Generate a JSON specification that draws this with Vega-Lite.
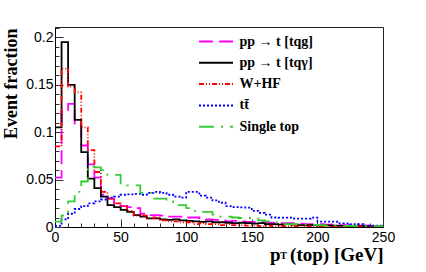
{
"$schema": "https://vega.github.io/schema/vega-lite/v6.json",
"width": 328, "height": 200,
"autosize": {"type": "none"},
"padding": {"left": 55, "top": 27, "right": 43, "bottom": 45},
"background": "white",
"config": {"view": {"stroke": "#222", "strokeWidth": 1}},
"datasets": {"h": [
{"sample":"pp  → t [tqg]","pt":0,"frac":0.052},{"sample":"pp  → t [tqg]","pt":5,"frac":0.122},{"sample":"pp  → t [tqg]","pt":10,"frac":0.130},{"sample":"pp  → t [tqg]","pt":15,"frac":0.109},{"sample":"pp  → t [tqg]","pt":20,"frac":0.086},{"sample":"pp  → t [tqg]","pt":25,"frac":0.066},{"sample":"pp  → t [tqg]","pt":30,"frac":0.052},{"sample":"pp  → t [tqg]","pt":35,"frac":0.034},{"sample":"pp  → t [tqg]","pt":40,"frac":0.030},{"sample":"pp  → t [tqg]","pt":45,"frac":0.025},
{"sample":"pp  → t [tqg]","pt":50,"frac":0.022},{"sample":"pp  → t [tqg]","pt":55,"frac":0.021},{"sample":"pp  → t [tqg]","pt":60,"frac":0.020},{"sample":"pp  → t [tqg]","pt":65,"frac":0.014},{"sample":"pp  → t [tqg]","pt":70,"frac":0.0126},{"sample":"pp  → t [tqg]","pt":75,"frac":0.0125},{"sample":"pp  → t [tqg]","pt":80,"frac":0.012},{"sample":"pp  → t [tqg]","pt":85,"frac":0.011},{"sample":"pp  → t [tqg]","pt":90,"frac":0.011},{"sample":"pp  → t [tqg]","pt":95,"frac":0.011},
{"sample":"pp  → t [tqg]","pt":100,"frac":0.010},{"sample":"pp  → t [tqg]","pt":105,"frac":0.010},{"sample":"pp  → t [tqg]","pt":110,"frac":0.009},{"sample":"pp  → t [tqg]","pt":115,"frac":0.008},{"sample":"pp  → t [tqg]","pt":120,"frac":0.0075},{"sample":"pp  → t [tqg]","pt":125,"frac":0.007},{"sample":"pp  → t [tqg]","pt":130,"frac":0.006},{"sample":"pp  → t [tqg]","pt":135,"frac":0.0065},{"sample":"pp  → t [tqg]","pt":140,"frac":0.006},{"sample":"pp  → t [tqg]","pt":145,"frac":0.0055},
{"sample":"pp  → t [tqg]","pt":150,"frac":0.005},{"sample":"pp  → t [tqg]","pt":155,"frac":0.005},{"sample":"pp  → t [tqg]","pt":160,"frac":0.0045},{"sample":"pp  → t [tqg]","pt":165,"frac":0.0045},{"sample":"pp  → t [tqg]","pt":170,"frac":0.004},{"sample":"pp  → t [tqg]","pt":175,"frac":0.004},{"sample":"pp  → t [tqg]","pt":180,"frac":0.004},{"sample":"pp  → t [tqg]","pt":185,"frac":0.0035},{"sample":"pp  → t [tqg]","pt":190,"frac":0.003},{"sample":"pp  → t [tqg]","pt":195,"frac":0.003},
{"sample":"pp  → t [tqg]","pt":200,"frac":0.003},{"sample":"pp  → t [tqg]","pt":205,"frac":0.0025},{"sample":"pp  → t [tqg]","pt":210,"frac":0.0025},{"sample":"pp  → t [tqg]","pt":215,"frac":0.002},{"sample":"pp  → t [tqg]","pt":220,"frac":0.002},{"sample":"pp  → t [tqg]","pt":225,"frac":0.0018},{"sample":"pp  → t [tqg]","pt":230,"frac":0.0015},{"sample":"pp  → t [tqg]","pt":235,"frac":0.0015},{"sample":"pp  → t [tqg]","pt":240,"frac":0.0012},{"sample":"pp  → t [tqg]","pt":245,"frac":0.001},{"sample":"pp  → t [tqg]","pt":250,"frac":0.001},
{"sample":"pp  → t [tqγ]","pt":0,"frac":0.105},{"sample":"pp  → t [tqγ]","pt":5,"frac":0.195},{"sample":"pp  → t [tqγ]","pt":10,"frac":0.150},{"sample":"pp  → t [tqγ]","pt":15,"frac":0.113},{"sample":"pp  → t [tqγ]","pt":20,"frac":0.079},{"sample":"pp  → t [tqγ]","pt":25,"frac":0.051},{"sample":"pp  → t [tqγ]","pt":30,"frac":0.041},{"sample":"pp  → t [tqγ]","pt":35,"frac":0.032},{"sample":"pp  → t [tqγ]","pt":40,"frac":0.023},{"sample":"pp  → t [tqγ]","pt":45,"frac":0.021},
{"sample":"pp  → t [tqγ]","pt":50,"frac":0.018},{"sample":"pp  → t [tqγ]","pt":55,"frac":0.016},{"sample":"pp  → t [tqγ]","pt":60,"frac":0.0126},{"sample":"pp  → t [tqγ]","pt":65,"frac":0.011},{"sample":"pp  → t [tqγ]","pt":70,"frac":0.009},{"sample":"pp  → t [tqγ]","pt":75,"frac":0.009},{"sample":"pp  → t [tqγ]","pt":80,"frac":0.008},{"sample":"pp  → t [tqγ]","pt":85,"frac":0.0075},{"sample":"pp  → t [tqγ]","pt":90,"frac":0.008},{"sample":"pp  → t [tqγ]","pt":95,"frac":0.007},
{"sample":"pp  → t [tqγ]","pt":100,"frac":0.0065},{"sample":"pp  → t [tqγ]","pt":105,"frac":0.006},{"sample":"pp  → t [tqγ]","pt":110,"frac":0.0055},{"sample":"pp  → t [tqγ]","pt":115,"frac":0.006},{"sample":"pp  → t [tqγ]","pt":120,"frac":0.005},{"sample":"pp  → t [tqγ]","pt":125,"frac":0.005},{"sample":"pp  → t [tqγ]","pt":130,"frac":0.0045},{"sample":"pp  → t [tqγ]","pt":135,"frac":0.004},{"sample":"pp  → t [tqγ]","pt":140,"frac":0.0045},{"sample":"pp  → t [tqγ]","pt":145,"frac":0.004},
{"sample":"pp  → t [tqγ]","pt":150,"frac":0.0035},{"sample":"pp  → t [tqγ]","pt":155,"frac":0.004},{"sample":"pp  → t [tqγ]","pt":160,"frac":0.003},{"sample":"pp  → t [tqγ]","pt":165,"frac":0.003},{"sample":"pp  → t [tqγ]","pt":170,"frac":0.0025},{"sample":"pp  → t [tqγ]","pt":175,"frac":0.003},{"sample":"pp  → t [tqγ]","pt":180,"frac":0.0025},{"sample":"pp  → t [tqγ]","pt":185,"frac":0.002},{"sample":"pp  → t [tqγ]","pt":190,"frac":0.002},{"sample":"pp  → t [tqγ]","pt":195,"frac":0.002},
{"sample":"pp  → t [tqγ]","pt":200,"frac":0.0015},{"sample":"pp  → t [tqγ]","pt":205,"frac":0.0018},{"sample":"pp  → t [tqγ]","pt":210,"frac":0.0015},{"sample":"pp  → t [tqγ]","pt":215,"frac":0.0012},{"sample":"pp  → t [tqγ]","pt":220,"frac":0.001},{"sample":"pp  → t [tqγ]","pt":225,"frac":0.0012},{"sample":"pp  → t [tqγ]","pt":230,"frac":0.001},{"sample":"pp  → t [tqγ]","pt":235,"frac":0.0008},{"sample":"pp  → t [tqγ]","pt":240,"frac":0.0008},{"sample":"pp  → t [tqγ]","pt":245,"frac":0.0006},{"sample":"pp  → t [tqγ]","pt":250,"frac":0.0006},
{"sample":"W+HF","pt":0,"frac":0.085},{"sample":"W+HF","pt":5,"frac":0.167},{"sample":"W+HF","pt":10,"frac":0.148},{"sample":"W+HF","pt":15,"frac":0.142},{"sample":"W+HF","pt":20,"frac":0.105},{"sample":"W+HF","pt":25,"frac":0.081},{"sample":"W+HF","pt":30,"frac":0.058},{"sample":"W+HF","pt":35,"frac":0.037},{"sample":"W+HF","pt":40,"frac":0.030},{"sample":"W+HF","pt":45,"frac":0.025},
{"sample":"W+HF","pt":50,"frac":0.022},{"sample":"W+HF","pt":55,"frac":0.017},{"sample":"W+HF","pt":60,"frac":0.012},{"sample":"W+HF","pt":65,"frac":0.012},{"sample":"W+HF","pt":70,"frac":0.009},{"sample":"W+HF","pt":75,"frac":0.010},{"sample":"W+HF","pt":80,"frac":0.007},{"sample":"W+HF","pt":85,"frac":0.006},{"sample":"W+HF","pt":90,"frac":0.006},{"sample":"W+HF","pt":95,"frac":0.005},
{"sample":"W+HF","pt":100,"frac":0.005},{"sample":"W+HF","pt":105,"frac":0.003},{"sample":"W+HF","pt":110,"frac":0.004},{"sample":"W+HF","pt":115,"frac":0.003},{"sample":"W+HF","pt":120,"frac":0.003},{"sample":"W+HF","pt":125,"frac":0.002},{"sample":"W+HF","pt":130,"frac":0.003},{"sample":"W+HF","pt":135,"frac":0.002},{"sample":"W+HF","pt":140,"frac":0.002},{"sample":"W+HF","pt":145,"frac":0.0015},
{"sample":"W+HF","pt":150,"frac":0.0015},{"sample":"W+HF","pt":155,"frac":0.001},{"sample":"W+HF","pt":160,"frac":0.0015},{"sample":"W+HF","pt":165,"frac":0.001},{"sample":"W+HF","pt":170,"frac":0.001},{"sample":"W+HF","pt":175,"frac":0.0008},{"sample":"W+HF","pt":180,"frac":0.001},{"sample":"W+HF","pt":185,"frac":0.0008},{"sample":"W+HF","pt":190,"frac":0.0006},{"sample":"W+HF","pt":195,"frac":0.0008},
{"sample":"W+HF","pt":200,"frac":0.0005},{"sample":"W+HF","pt":205,"frac":0.0006},{"sample":"W+HF","pt":210,"frac":0.0005},{"sample":"W+HF","pt":215,"frac":0.0004},{"sample":"W+HF","pt":220,"frac":0.0005},{"sample":"W+HF","pt":225,"frac":0.0004},{"sample":"W+HF","pt":230,"frac":0.0003},{"sample":"W+HF","pt":235,"frac":0.0004},{"sample":"W+HF","pt":240,"frac":0.0003},{"sample":"W+HF","pt":245,"frac":0.0003},{"sample":"W+HF","pt":250,"frac":0.0003},
{"sample":"tt̄","pt":0,"frac":0.0012},{"sample":"tt̄","pt":5,"frac":0.008},{"sample":"tt̄","pt":10,"frac":0.014},{"sample":"tt̄","pt":15,"frac":0.019},{"sample":"tt̄","pt":20,"frac":0.022},{"sample":"tt̄","pt":25,"frac":0.025},{"sample":"tt̄","pt":30,"frac":0.027},{"sample":"tt̄","pt":35,"frac":0.029},{"sample":"tt̄","pt":40,"frac":0.031},{"sample":"tt̄","pt":45,"frac":0.032},
{"sample":"tt̄","pt":50,"frac":0.034},{"sample":"tt̄","pt":55,"frac":0.0345},{"sample":"tt̄","pt":60,"frac":0.035},{"sample":"tt̄","pt":65,"frac":0.034},{"sample":"tt̄","pt":70,"frac":0.036},{"sample":"tt̄","pt":75,"frac":0.037},{"sample":"tt̄","pt":80,"frac":0.036},{"sample":"tt̄","pt":85,"frac":0.034},{"sample":"tt̄","pt":90,"frac":0.032},{"sample":"tt̄","pt":95,"frac":0.031},
{"sample":"tt̄","pt":100,"frac":0.037},{"sample":"tt̄","pt":105,"frac":0.037},{"sample":"tt̄","pt":110,"frac":0.033},{"sample":"tt̄","pt":115,"frac":0.031},{"sample":"tt̄","pt":120,"frac":0.028},{"sample":"tt̄","pt":125,"frac":0.0256},{"sample":"tt̄","pt":130,"frac":0.022},{"sample":"tt̄","pt":135,"frac":0.021},{"sample":"tt̄","pt":140,"frac":0.0207},{"sample":"tt̄","pt":145,"frac":0.0205},
{"sample":"tt̄","pt":150,"frac":0.017},{"sample":"tt̄","pt":155,"frac":0.015},{"sample":"tt̄","pt":160,"frac":0.013},{"sample":"tt̄","pt":165,"frac":0.010},{"sample":"tt̄","pt":170,"frac":0.0098},{"sample":"tt̄","pt":175,"frac":0.0098},{"sample":"tt̄","pt":180,"frac":0.0088},{"sample":"tt̄","pt":185,"frac":0.0088},{"sample":"tt̄","pt":190,"frac":0.0088},{"sample":"tt̄","pt":195,"frac":0.0098},
{"sample":"tt̄","pt":200,"frac":0.0056},{"sample":"tt̄","pt":205,"frac":0.0056},{"sample":"tt̄","pt":210,"frac":0.0056},{"sample":"tt̄","pt":215,"frac":0.0039},{"sample":"tt̄","pt":220,"frac":0.0039},{"sample":"tt̄","pt":225,"frac":0.003},{"sample":"tt̄","pt":230,"frac":0.003},{"sample":"tt̄","pt":235,"frac":0.0014},{"sample":"tt̄","pt":240,"frac":0.0014},{"sample":"tt̄","pt":245,"frac":0.0014},{"sample":"tt̄","pt":250,"frac":0.0014},
{"sample":"Single top","pt":0,"frac":0.0056},{"sample":"Single top","pt":5,"frac":0.012},{"sample":"Single top","pt":10,"frac":0.027},{"sample":"Single top","pt":15,"frac":0.037},{"sample":"Single top","pt":20,"frac":0.048},{"sample":"Single top","pt":25,"frac":0.064},{"sample":"Single top","pt":30,"frac":0.063},{"sample":"Single top","pt":35,"frac":0.060},{"sample":"Single top","pt":40,"frac":0.055},{"sample":"Single top","pt":45,"frac":0.055},
{"sample":"Single top","pt":50,"frac":0.046},{"sample":"Single top","pt":55,"frac":0.044},{"sample":"Single top","pt":60,"frac":0.044},{"sample":"Single top","pt":65,"frac":0.036},{"sample":"Single top","pt":70,"frac":0.036},{"sample":"Single top","pt":75,"frac":0.030},{"sample":"Single top","pt":80,"frac":0.030},{"sample":"Single top","pt":85,"frac":0.027},{"sample":"Single top","pt":90,"frac":0.023},{"sample":"Single top","pt":95,"frac":0.023},
{"sample":"Single top","pt":100,"frac":0.020},{"sample":"Single top","pt":105,"frac":0.017},{"sample":"Single top","pt":110,"frac":0.016},{"sample":"Single top","pt":115,"frac":0.016},{"sample":"Single top","pt":120,"frac":0.013},{"sample":"Single top","pt":125,"frac":0.011},{"sample":"Single top","pt":130,"frac":0.011},{"sample":"Single top","pt":135,"frac":0.010},{"sample":"Single top","pt":140,"frac":0.0095},{"sample":"Single top","pt":145,"frac":0.0095},
{"sample":"Single top","pt":150,"frac":0.009},{"sample":"Single top","pt":155,"frac":0.007},{"sample":"Single top","pt":160,"frac":0.006},{"sample":"Single top","pt":165,"frac":0.005},{"sample":"Single top","pt":170,"frac":0.005},{"sample":"Single top","pt":175,"frac":0.003},{"sample":"Single top","pt":180,"frac":0.003},{"sample":"Single top","pt":185,"frac":0.0028},{"sample":"Single top","pt":190,"frac":0.0028},{"sample":"Single top","pt":195,"frac":0.0022},
{"sample":"Single top","pt":200,"frac":0.002},{"sample":"Single top","pt":205,"frac":0.0018},{"sample":"Single top","pt":210,"frac":0.0015},{"sample":"Single top","pt":215,"frac":0.0015},{"sample":"Single top","pt":220,"frac":0.0012},{"sample":"Single top","pt":225,"frac":0.0012},{"sample":"Single top","pt":230,"frac":0.001},{"sample":"Single top","pt":235,"frac":0.001},{"sample":"Single top","pt":240,"frac":0.0008},{"sample":"Single top","pt":245,"frac":0.0008},{"sample":"Single top","pt":250,"frac":0.0008}
]},
"resolve": {"axis": {"x": "independent", "y": "independent"}},
"layer": [
{"data": {"name": "h"},
 "mark": {"type": "line", "interpolate": "step-after", "strokeWidth": 1.8, "clip": true},
 "encoding": {
  "x": {"field": "pt", "type": "quantitative", "scale": {"domain": [0, 250], "nice": false},
   "axis": {"orient": "bottom", "values": [0,50,100,150,200,250], "format": "d",
    "tickSize": -8, "tickColor": "#333", "tickWidth": 1, "domainColor": "#000", "grid": false,
    "labelFont": "Liberation Sans", "labelFontSize": 14, "labelColor": "#000", "labelPadding": 11, "labelOverlap": false, "labelFlush": false,
    "title": "p\u00a0\u00a0(top) [GeV]", "titleFont": "Liberation Serif", "titleFontWeight": "bold", "titleFontSize": 19, "titleColor": "#000",
    "titleAnchor": "end", "titleAlign": "right", "titleX": 328, "titleY": 33, "titleBaseline": "alphabetic"}},
  "y": {"field": "frac", "type": "quantitative", "scale": {"domain": [0, 0.211], "nice": false},
   "axis": {"orient": "left", "values": [0,0.05,0.1,0.15,0.2], "format": "~g",
    "tickSize": -8, "tickColor": "#333", "tickWidth": 1, "domainColor": "#000", "grid": false,
    "labelFont": "Liberation Sans", "labelFontSize": 14, "labelColor": "#000", "labelPadding": 10, "labelOverlap": false, "labelFlush": false,
    "title": "Event fraction", "titleFont": "Liberation Serif", "titleFontWeight": "bold", "titleFontSize": 18, "titleColor": "#000",
    "titleAngle": 270, "titleAlign": "right", "titleBaseline": "middle", "titleX": -44, "titleY": 1}},
  "color": {"field": "sample", "type": "nominal",
   "scale": {"domain": ["pp  → t [tqg]", "pp  → t [tqγ]", "W+HF", "tt̄", "Single top"], "range": ["#ff00ff", "#000000", "#ff0000", "#0000ff", "#33cc33"]},
   "legend": {"orient": "none", "legendX": 151.5, "legendY": 5, "title": null, "symbolType": "M-2,0H2", "symbolSize": 289, "symbolStrokeWidth": 2,
    "labelFont": "Liberation Serif", "labelFontWeight": "bold", "labelFontSize": 14, "labelColor": "#000", "labelOffset": 14, "rowPadding": 4.3, "padding": 0, "labelLimit": 300}},
  "strokeDash": {"field": "sample", "type": "nominal",
   "scale": {"domain": ["pp  → t [tqg]", "pp  → t [tqγ]", "W+HF", "tt̄", "Single top"], "range": [[14, 6], [1, 0], [5, 2, 1, 2, 1, 2], [2, 2], [15, 7, 2, 7]]}}
 }},
{"data": {"values": [{"sub": "T", "pt": 174.2, "frac": -0.031}]},
 "mark": {"type": "text", "font": "Liberation Serif", "fontWeight": "bold", "fontSize": 10, "baseline": "middle", "align": "center", "color": "#000"},
 "encoding": {
  "text": {"field": "sub"},
  "x": {"field": "pt", "type": "quantitative",
   "axis": {"orient": "bottom", "values": [10,20,30,40,60,70,80,90,110,120,130,140,160,170,180,190,210,220,230,240], "labels": false, "domain": false, "grid": false, "title": null, "tickSize": -4, "tickColor": "#333", "tickWidth": 1}},
  "y": {"field": "frac", "type": "quantitative",
   "axis": {"orient": "left", "values": [0.01,0.02,0.03,0.04,0.06,0.07,0.08,0.09,0.11,0.12,0.13,0.14,0.16,0.17,0.18,0.19,0.21], "labels": false, "domain": false, "grid": false, "title": null, "tickSize": -4, "tickColor": "#333", "tickWidth": 1}}
 }}
]
}
